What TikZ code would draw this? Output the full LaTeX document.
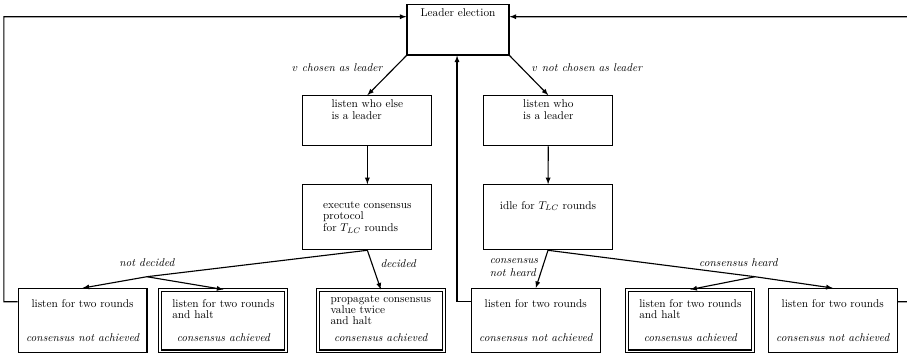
\documentclass[tikz,border=0pt]{standalone}
\usetikzlibrary{positioning}
\begin{document}
\begin{tikzpicture}[>=latex, line width=1pt,
    font=\fontsize{10}{10.5}\selectfont,
    box/.style={draw, minimum width=4.01cm, minimum height=1.56cm, inner sep=0pt},
    endbox/.style={box, minimum height=2cm},
    donebox/.style={endbox, double, double distance=1.6pt, minimum width=3.92cm, minimum height=1.91cm},
    toptext/.style={anchor=north, align=left, inner sep=3.33pt},
    endtext/.style={toptext, font=\fontsize{10}{9.7}\selectfont},
    bottext/.style={anchor=base, font=\itshape},
    edgelabel/.style={font=\itshape}]
    \useasboundingbox (0,0) rectangle (28.22,11.04);

    % Leader election
    \node[box, minimum width=3.17cm, label={[toptext]north:Leader election}] (lead) at (14.25,10.11) {};

    % v chosen as leader
    \node[box, label={[toptext]north:{listen who else\\is a leader}}] (whoelse) at (11.43,7.28) {};
    \node[box, minimum height=2.02cm, align=left] (exec) at (11.43,4.28) {execute consensus\\protocol\\for $T_{LC}$ rounds};

    % v not chosen as leader
    \node[box, label={[toptext]north:{listen who\\is a leader}}] (who) at (17.06,7.28) {};
    \node[box, minimum height=2.02cm, label={[toptext, yshift=-11.2pt]north:idle for $T_{LC}$ rounds}] (idle) at (17.05,4.28) {};

    % Final states
    \node[endbox, label={[endtext, yshift=-6.3pt]north:listen for two rounds},
        label={[bottext, yshift=10.4pt]south:consensus not achieved}] (b1) at (2.57,1.06) {};
    \node[donebox, label={[endtext, yshift=-5.1pt]north:{listen for two rounds\\and halt}},
        label={[bottext, yshift=9.1pt]south:consensus achieved}] (b2) at (6.95,1.06) {};
    \node[donebox, label={[endtext, yshift=-1.6pt]north:{propagate consensus\\value twice\\and halt}},
        label={[bottext, yshift=9.1pt]south:consensus achieved}] (b3) at (11.85,1.06) {};
    \node[endbox, label={[endtext, yshift=-6.3pt]north:listen for two rounds},
        label={[bottext, yshift=10.4pt]south:consensus not achieved}] (b4) at (16.67,1.06) {};
    \node[donebox, label={[endtext, yshift=-5.1pt]north:{listen for two rounds\\and halt}},
        label={[bottext, yshift=9.1pt]south:consensus achieved}] (b5) at (21.48,1.06) {};
    \node[endbox, label={[endtext, yshift=-6.3pt]north:listen for two rounds},
        label={[bottext, yshift=10.4pt]south:consensus not achieved}] (b6) at (25.91,1.06) {};

    % Election outcome
    \draw[->] (lead.south west) -- (whoelse.north) node[edgelabel, pos=0.3, left=0.25cm] {$v$ chosen as leader};
    \draw[->] (lead.south east) -- (who.north) node[edgelabel, pos=0.3, right=0.2cm] {$v$ not chosen as leader};
    \draw[->] (whoelse) -- (exec);
    \draw[->] (who) -- (idle);

    % Consensus protocol outcome
    \coordinate (nd) at (4.57,2.43);
    \draw (exec.south) -- (nd) node[edgelabel, above=5pt] {not decided};
    \draw[->] (nd) -- (b1.north);
    \draw[->] (nd) -- (b2.north);
    \draw[->] (exec.south) -- (b3.north) node[edgelabel, pos=0.33, right=4pt] {decided};

    % Idle outcome
    \draw[->] (idle.south) -- (b4.north) node[edgelabel, pos=0.46, left, align=left] {consensus\\not heard};
    \coordinate (ch) at (23.49,2.43);
    \draw (idle.south) -- (ch) node[edgelabel, pos=0.92, above=3pt] {consensus heard};
    \draw[->] (ch) -- (b5.north);
    \draw[->] (ch) -- (b6.north);

    % Back to leader election
    \draw[->] ([yshift=0.59cm]b1.west) -- (0.12,1.65) |- ([yshift=0.41cm]lead.west);
    \draw[->] ([yshift=0.59cm]b4.west) -| ([xshift=-0.03cm]lead.south);
    \draw[->] ([yshift=0.59cm]b6.east) -- (28.4,1.65) |- ([yshift=0.41cm]lead.east);
\end{tikzpicture}
\end{document}
